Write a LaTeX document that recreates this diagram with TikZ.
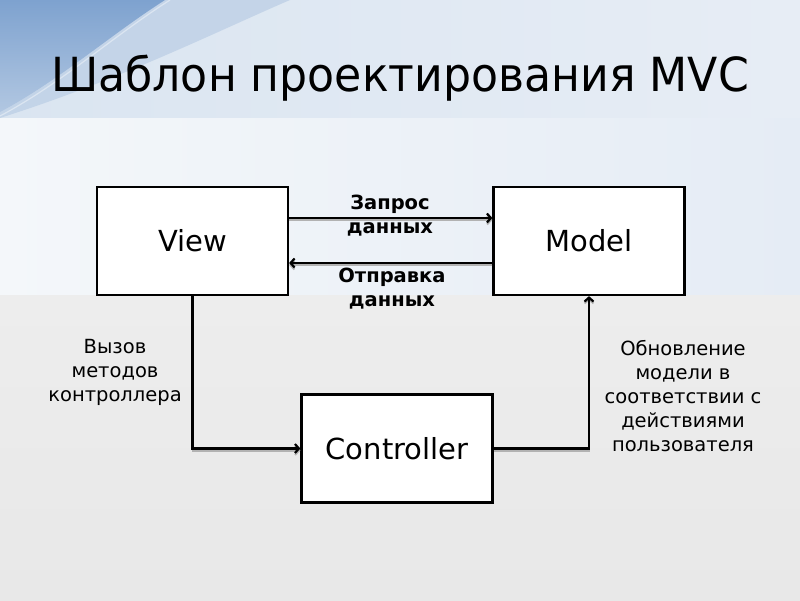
\documentclass[tikz,border=0pt]{standalone}
\usepackage{fontspec}
\setmainfont{DejaVu Sans}
\usetikzlibrary{arrows.meta,positioning}
\definecolor{skyA}{RGB}{126,162,207}
\definecolor{skyB}{RGB}{190,208,230}
\definecolor{skyC}{RGB}{218,229,241}
\definecolor{skyD}{RGB}{231,237,245}
\definecolor{paleA}{RGB}{244,247,250}
\definecolor{paleB}{RGB}{229,236,245}
\definecolor{floorA}{RGB}{237,237,237}
\definecolor{floorB}{RGB}{232,232,232}
\tikzset{
	block/.style={draw,line width=2.2pt,fill=white,minimum width=191pt,minimum height=108pt,font=\fontsize{29}{34}\selectfont},
	flow/.style={line width=2.2pt,-{Straight Barb[length=4pt,width=9pt]},preaction={draw=black!30,line width=2pt,transform canvas={yshift=-2pt}}},
	note/.style={align=center,font=\fontsize{19.5}{24}\selectfont},
	bnote/.style={align=center,font=\bfseries\fontsize{19.5}{24}\selectfont}
}
\begin{document}
\begin{tikzpicture}[x=1pt,y=-1pt]
	% background
	\shade[left color=skyC,right color=skyD] (0,0) rectangle (800,118);
	\begin{scope}
		\clip (0,0) rectangle (800,118);
		\fill[skyB,opacity=0.8] (0,118) .. controls (120,80) and (220,30) .. (290,0) -- (0,0) -- cycle;
		\shade[top color=skyA,bottom color=skyB!80!skyA] (0,112) .. controls (60,80) and (110,35) .. (165,0) -- (0,0) -- cycle;
		\draw[white,opacity=0.4,line width=1.2pt] (0,116) .. controls (62,83) and (112,37) .. (170,0);
	\end{scope}
	\shade[left color=paleA,right color=paleB] (0,118) rectangle (800,295);
	\shade[top color=floorA,bottom color=floorB] (0,295) rectangle (800,600);

	\node[font=\fontsize{47}{56}\selectfont] (title) at (400,78) {\scalebox{0.94}[1]{Шаблон проектирования MVC}};

	\node[block] (view) at (192.5,241) {View};
	\node[block] (model) at (589,241) {Model};
	\node[block] (ctrl) at (397,448.5) {Controller};

	\draw[flow] ([yshift=23pt]view.east) -- ([yshift=23pt]model.west);
	\draw[flow] ([yshift=-22pt]model.west) -- ([yshift=-22pt]view.east);
	\draw[flow] (view.south) |- (ctrl.west);
	\draw[flow] (ctrl.east) -| (model.south);

	\node[bnote] (ask) at (390,216) {Запрос\\данных};
	\node[bnote] (send) at (392,289) {Отправка\\данных};
	\node[note] (call) at (115,372) {Вызов\\методов\\контроллера};
	\node[note] (upd) at (683,396) {Обновление\\модели в\\соответствии с\\действиями\\пользователя};
\end{tikzpicture}
\end{document}
